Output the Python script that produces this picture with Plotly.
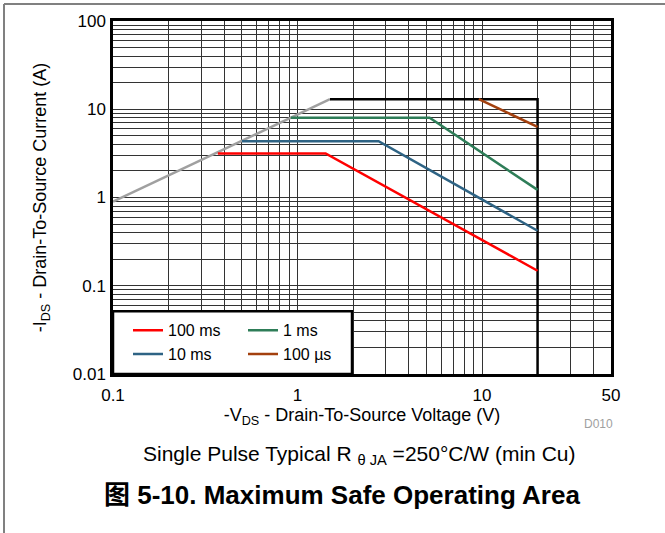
import plotly.graph_objects as go

# ---- data ----
vds_100ms = [0.37, 1.42, 20]
ids_100ms = [3.16, 3.16, 0.148]
vds_10ms = [0.5, 2.75, 20]
ids_10ms = [4.35, 4.35, 0.42]
vds_1ms = [0.92, 5.2, 20]
ids_1ms = [8.0, 8.0, 1.22]
vds_100us = [9.6, 20]
ids_100us = [13.0, 6.3]
vds_rds = [0.1, 1.5]
ids_rds = [0.9, 13.0]
vds_lim = [1.5, 20, 20]
ids_lim = [13.0, 13.0, 0.01]

x_ticks = [0.1, 1, 10, 50]
x_ticklabels = ["0.1", "1", "10", "50"]
x_grid = [0.1, 0.2, 0.3, 0.4, 0.5, 0.6, 0.7, 0.8, 0.9,
          1, 2, 3, 4, 5, 6, 7, 8, 9, 10, 20, 30, 40, 50]
y_ticks = [0.01, 0.1, 1, 10, 100]
y_ticklabels = ["0.01", "0.1", "1", "10", "100"]
y_grid = [m * d for d in [0.01, 0.1, 1, 10] for m in range(1, 10)] + [100]

FONT = "Liberation Sans, Arial, Noto Sans CJK SC, sans-serif"

fig = go.Figure()
fig.add_trace(go.Scatter(x=vds_rds, y=ids_rds, mode="lines", showlegend=False,
                         line=dict(color="#A0A0A0", width=2.5)))
fig.add_trace(go.Scatter(x=vds_lim, y=ids_lim, mode="lines", showlegend=False,
                         line=dict(color="#000000", width=2.5)))
fig.add_trace(go.Scatter(x=vds_100ms, y=ids_100ms, mode="lines", name="100 ms",
                         line=dict(color="#FF0000", width=2.5), legend="legend"))
fig.add_trace(go.Scatter(x=vds_10ms, y=ids_10ms, mode="lines", name="10 ms",
                         line=dict(color="#2E6384", width=2.5), legend="legend"))
fig.add_trace(go.Scatter(x=vds_1ms, y=ids_1ms, mode="lines", name="1 ms",
                         line=dict(color="#2E7D58", width=2.5), legend="legend2"))
fig.add_trace(go.Scatter(x=vds_100us, y=ids_100us, mode="lines", name="100 µs",
                         line=dict(color="#A3400E", width=2.5), legend="legend2"))

L, R, T, B = 113, 54, 19, 159
PW, PH = 665 - L - R, 533 - T - B


def px(xp):
    return (xp - L) / PW


def py(yp):
    return (533 - B - yp) / PH


legend_common = dict(font=dict(family=FONT, size=16, color="#000"),
                     bgcolor="rgba(0,0,0,0)", borderwidth=0,
                     xanchor="left", yanchor="top", tracegroupgap=0,
                     itemwidth=30)
GRID = dict(showgrid=True, gridcolor="#333333", gridwidth=1)
fig.update_layout(
    width=665, height=533,
    margin=dict(l=L, r=R, t=T, b=B),
    paper_bgcolor="white", plot_bgcolor="white",
    font=dict(family=FONT, size=16, color="#000"),
    legend=dict(x=px(128), y=py(313), **legend_common),
    legend2=dict(x=px(243), y=py(313), **legend_common),
    xaxis=dict(type="log", range=[-1, 1.69897],
               tickvals=x_ticks, ticktext=x_ticklabels,
               minor=dict(tickvals=x_grid, ticks="", **GRID),
               **GRID,
               showline=True, linecolor="black", linewidth=2.5, mirror=True,
               ticks="", tickfont=dict(size=17), ticklabelstandoff=4,
               title=dict(text="-V<sub>DS</sub> - Drain-To-Source Voltage (V)",
                          font=dict(size=18), standoff=2),
               zeroline=False),
    yaxis=dict(type="log", range=[-2, 2],
               tickvals=y_ticks, ticktext=y_ticklabels,
               minor=dict(tickvals=y_grid, ticks="", **GRID),
               **GRID,
               showline=True, linecolor="black", linewidth=2.5, mirror=True,
               ticks="", tickfont=dict(size=17), ticklabelstandoff=1,
               title=dict(text="-I<sub>DS</sub> - Drain-To-Source Current (A)",
                          font=dict(size=18), standoff=22),
               zeroline=False),
    shapes=[
        dict(type="rect", xref="paper", yref="paper", x0=0, x1=px(352),
             y0=0, y1=py(311), fillcolor="white", line=dict(color="black", width=2.5),
             layer="above"),
        dict(type="line", xref="paper", yref="paper", x0=px(4), x1=px(665),
             y0=py(2), y1=py(2), line=dict(color="#808080", width=2)),
        dict(type="line", xref="paper", yref="paper", x0=px(4), x1=px(4),
             y0=py(2), y1=py(540), line=dict(color="#808080", width=2)),
    ],
    annotations=[
        dict(text="D010", xref="paper", yref="paper", x=px(598), y=py(424),
             xanchor="center", yanchor="middle",
             showarrow=False, font=dict(size=12, color="#A0A0A0")),
        dict(text="Single Pulse Typical R <sub>θ JA</sub> =250°C/W (min Cu)",
             xref="paper", yref="paper", x=px(359), y=py(455), showarrow=False,
             xanchor="center", yanchor="middle",
             font=dict(size=21, color="#000")),
        dict(text="<b>图 5-10. Maximum Safe Operating Area</b>",
             xref="paper", yref="paper", x=px(342), y=py(496), showarrow=False,
             xanchor="center", yanchor="middle",
             font=dict(size=26, color="#000")),
    ],
)

fig.write_html("out.html")
